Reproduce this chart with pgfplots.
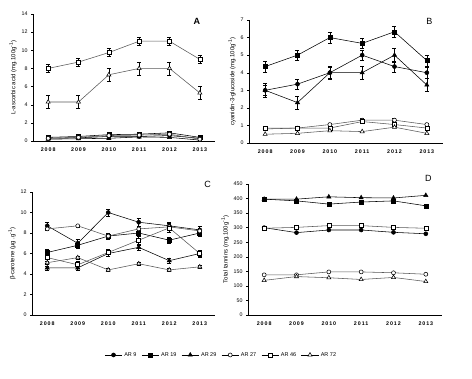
\documentclass[border=0pt]{standalone}
\usepackage{pgfplots}
\pgfplotsset{compat=1.18}
\usepackage{fontspec}
\setmainfont{Liberation Sans}
\newfontfamily\spaced[LetterSpace=18]{Liberation Sans}
\definecolor{lg}{gray}{0.35}
\pgfplotsset{
  panel/.style={
    scale only axis, clip=false,
    axis x line*=bottom, axis y line*=left,
    axis line style={-, line width=0.6pt, black},
    xmin=-0.5, xmax=5.5, ymin=0,
    xtick={0,1,2,3,4,5},
    xticklabels={2008,2009,2010,2011,2012,2013},
    x tick label style={font=\spaced\bfseries\fontsize{5.3}{6}\selectfont, yshift=-1pt},
    y tick label style={font=\fontsize{5.3}{6}\selectfont},
    /pgf/number format/assume math mode=true,
    xtick style={draw=none},
    ytick style={black, line width=0.4pt},
    tick align=outside, major tick length=2pt,
    ylabel style={font=\fontsize{6}{7}\selectfont, yshift=-2pt},
    every axis plot/.append style={line width=0.55pt},
    error bars/error bar style={black, line width=0.5pt},
    error bars/error mark options={rotate=90, mark size=2pt, black, line width=0.5pt},
  },
  sA/.style={black, mark=*, mark size=2pt, mark options={fill=black, draw=black}},
  sB/.style={black, mark=square*, mark size=2pt, mark options={fill=black, draw=black}},
  sC/.style={black, mark=triangle*, mark size=2.4pt, mark options={fill=black, draw=black}},
  sD/.style={lg, mark=*, mark size=2pt, mark options={fill=white, draw=black}},
  sE/.style={lg, mark=square*, mark size=2pt, mark options={fill=white, draw=black}},
  sF/.style={lg, mark=triangle*, mark size=2.4pt, mark options={fill=white, draw=black}},
  eb/.style={error bars/.cd, y dir=both, y explicit},
}
\begin{document}
\begin{tikzpicture}
\path[use as bounding box, fill=white] (0,0) rectangle (472pt,-379pt);
% Panel A
\begin{axis}[panel, at={(33pt,-141pt)}, anchor=south west, width=182pt, height=127pt,
  ymax=14, ytick={0,2,...,14},
  ylabel={L-ascorbic acid (mg.100g\textsuperscript{-1})}]
\addplot[sA] coordinates {(0,0.3)(1,0.35)(2,0.5)(3,0.5)(4,0.6)(5,0.3)};
\addplot[sB] coordinates {(0,0.4)(1,0.5)(2,0.7)(3,0.75)(4,0.9)(5,0.4)};
\addplot[sC] coordinates {(0,0.2)(1,0.25)(2,0.3)(3,0.45)(4,0.4)(5,0.1)};
\addplot[sD] coordinates {(0,0.3)(1,0.4)(2,0.6)(3,0.65)(4,0.75)(5,0.2)};
\addplot[sE, eb] coordinates {(0,8.0)+-(0,0.45)(1,8.7)+-(0,0.45)(2,9.75)+-(0,0.45)(3,11.0)+-(0,0.45)(4,11.0)+-(0,0.45)(5,9.0)+-(0,0.45)};
\addplot[sF, eb] coordinates {(0,4.3)+-(0,0.7)(1,4.3)+-(0,0.7)(2,7.3)+-(0,0.7)(3,8.0)+-(0,0.7)(4,8.0)+-(0,0.7)(5,5.3)+-(0,0.7)};
\node[font=\bfseries\fontsize{9}{10}\selectfont] at (rel axis cs:0.9,0.945) {A};
\end{axis}
% Panel B
\begin{axis}[panel, at={(249pt,-143pt)}, anchor=south west, width=194pt, height=123pt,
  ymax=7, ytick={0,1,...,7},
  ylabel={cyanidin-3-glucoside (mg.100g\textsuperscript{-1})}]
\addplot[sA, eb] coordinates {(0,3.0)+-(0,0.3)(1,3.35)+-(0,0.3)(2,4.0)+-(0,0.3)(3,5.0)+-(0,0.3)(4,4.35)+-(0,0.3)(5,4.0)+-(0,0.3)};
\addplot[sB, eb] coordinates {(0,4.35)+-(0,0.3)(1,5.0)+-(0,0.3)(2,6.0)+-(0,0.3)(3,5.67)+-(0,0.3)(4,6.33)+-(0,0.3)(5,4.69)+-(0,0.3)};
\addplot[sC, eb] coordinates {(0,3.0)+-(0,0.38)(1,2.3)+-(0,0.38)(2,4.0)+-(0,0.38)(3,4.0)+-(0,0.38)(4,5.0)+-(0,0.38)(5,3.3)+-(0,0.38)};
\addplot[sD, eb] coordinates {(0,0.8)+-(0,0.08)(1,0.85)+-(0,0.08)(2,1.05)+-(0,0.08)(3,1.3)+-(0,0.08)(4,1.3)+-(0,0.08)(5,1.05)+-(0,0.08)};
\addplot[sE, eb] coordinates {(0,0.85)+-(0,0.08)(1,0.85)+-(0,0.08)(2,0.85)+-(0,0.08)(3,1.22)+-(0,0.08)(4,1.05)+-(0,0.08)(5,0.85)+-(0,0.08)};
\addplot[sF] coordinates {(0,0.5)(1,0.55)(2,0.7)(3,0.65)(4,0.9)(5,0.55)};
\node[font=\fontsize{9}{10}\selectfont] at (rel axis cs:0.93,0.99) {B};
\end{axis}
% Panel C
\begin{axis}[panel, at={(32pt,-315pt)}, anchor=south west, width=183pt, height=123pt,
  ymax=12, ytick={0,2,...,12},
  ylabel={β-carotene (µg .g\textsuperscript{-1})},
  legend columns=6,
  legend style={at={(1.035,-0.325)}, anchor=center, draw=none, fill=none,
    font=\fontsize{5.5}{6.5}\selectfont,
    /tikz/every even column/.append style={column sep=3pt}},
  legend image post style={black}]
\addplot[sA, eb] coordinates {(0,8.7)+-(0,0.35)(1,7.0)+-(0,0.35)(2,10.0)+-(0,0.35)(3,9.05)+-(0,0.35)(4,8.7)+-(0,0.35)(5,8.3)+-(0,0.35)};
\addplot[sB, eb] coordinates {(0,6.1)+-(0,0.3)(1,6.8)+-(0,0.3)(2,7.7)+-(0,0.3)(3,8.0)+-(0,0.3)(4,7.3)+-(0,0.3)(5,8.0)+-(0,0.3)};
\addplot[sC, eb] coordinates {(0,4.6)+-(0,0.2)(1,4.6)+-(0,0.2)(2,6.0)+-(0,0.3)(3,6.6)+-(0,0.25)(4,5.3)+-(0,0.25)(5,6.0)+-(0,0.3)};
\addplot[sD, eb] coordinates {(0,8.4)+-(0,0.1)(1,8.7)+-(0,0.1)(2,7.7)+-(0,0.1)(3,8.4)+-(0,0.1)(4,8.6)+-(0,0.1)(5,8.2)+-(0,0.1)};
\addplot[sE, eb] coordinates {(0,5.6)+-(0,0.35)(1,4.9)+-(0,0.35)(2,6.1)+-(0,0.35)(3,7.3)+-(0,0.4)(4,8.5)+-(0,0.45)(5,6.0)+-(0,0.35)};
\addplot[sF, eb] coordinates {(0,5.1)+-(0,0.15)(1,5.6)+-(0,0.15)(2,4.4)+-(0,0.15)(3,5.0)+-(0,0.15)(4,4.4)+-(0,0.15)(5,4.7)+-(0,0.15)};
\legend{AR 9, AR 19, AR 29, AR 27, AR 46, AR 72}
\node[font=\fontsize{9}{10}\selectfont] at (rel axis cs:0.96,1.06) {C};
\end{axis}
% Panel D
\begin{axis}[panel, at={(248pt,-315pt)}, anchor=south west, width=194pt, height=131pt,
  ymax=450, ytick={0,50,...,450},
  ylabel={Total tannins (mg.100g\textsuperscript{-1})}]
\addplot[sA] coordinates {(0,300)(1,283)(2,292)(3,292)(4,284)(5,279)};
\addplot[sB] coordinates {(0,398)(1,392)(2,381)(3,388)(4,392)(5,375)};
\addplot[sC] coordinates {(0,398)(1,398)(2,406)(3,403)(4,402)(5,411)};
\addplot[sD] coordinates {(0,138)(1,138)(2,148)(3,148)(4,145)(5,140)};
\addplot[sE] coordinates {(0,298)(1,301)(2,307)(3,307)(4,301)(5,298)};
\addplot[sF] coordinates {(0,119)(1,132)(2,128)(3,122)(4,129)(5,115)};
\node[font=\fontsize{9}{10}\selectfont] at (rel axis cs:0.93,1.046) {D};
\end{axis}
\end{tikzpicture}
\end{document}
